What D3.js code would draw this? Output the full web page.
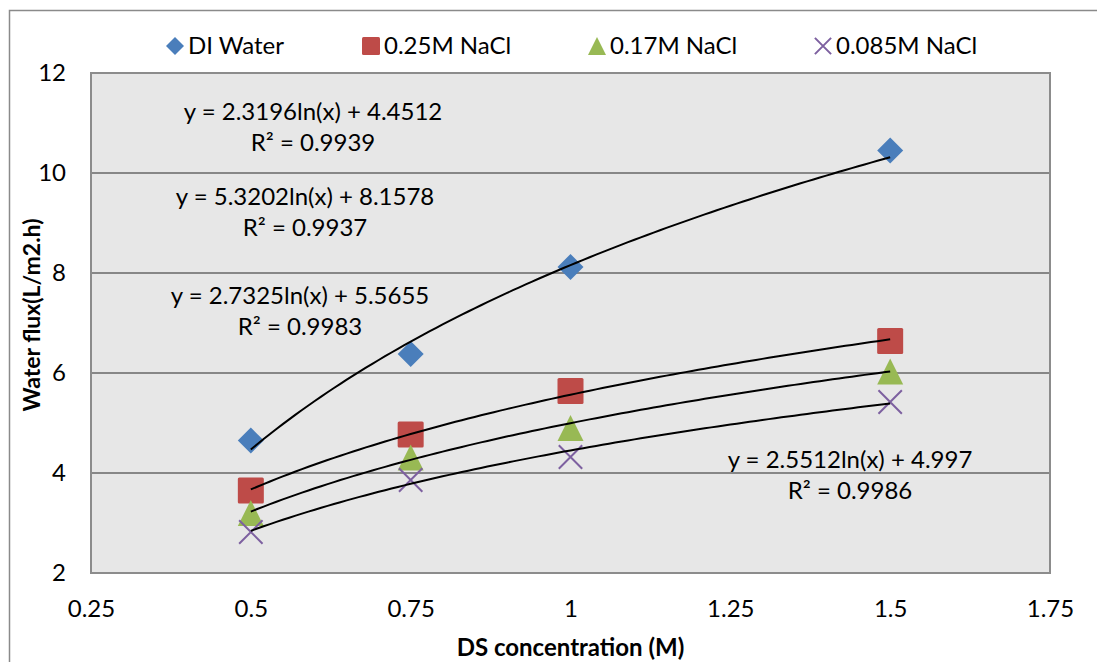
<!DOCTYPE html>
<html>
<head>
<meta charset="utf-8">
<script src="https://cdn.jsdelivr.net/npm/d3@7"></script>
<style>
  body { margin: 0; background: #fff; }
  svg { font-family: Lato, "Open Sans", sans-serif; }
</style>
</head>
<body>
<svg id="chart"></svg>
<script>
const concentrations = [0.5, 0.75, 1, 1.5];
const seriesNames = ["DI Water", "0.25M NaCl", "0.17M NaCl", "0.085M NaCl"];
const diWater = [4.65, 6.38, 8.12, 10.45];
const nacl025 = [3.65, 4.77, 5.64, 6.64];
const nacl017 = [3.2, 4.31, 4.9, 6.03];
const nacl0085 = [2.82, 3.86, 4.32, 5.42];
// log trendline coefficients (a*ln(x) + b) per series
const trendA = [5.3202, 2.7325, 2.5512, 2.3196];
const trendB = [8.1578, 5.5655, 4.997, 4.4512];
const xTicks = [0.25, 0.5, 0.75, 1, 1.25, 1.5, 1.75];
const yTicks = [2, 4, 6, 8, 10, 12];
const trendLabels = [
  ["y = 2.3196ln(x) + 4.4512", "R² = 0.9939"],
  ["y = 5.3202ln(x) + 8.1578", "R² = 0.9937"],
  ["y = 2.7325ln(x) + 5.5655", "R² = 0.9983"],
  ["y = 2.5512ln(x) + 4.997", "R² = 0.9986"]
];

const W = 1097, H = 662;
const margin = { top: 73, right: 47, bottom: 89, left: 91 };
const width = W - margin.left - margin.right;
const height = H - margin.top - margin.bottom;
const fs = 24;

const svg = d3.select("#chart").attr("width", W).attr("height", H);

svg.append("rect")
  .attr("x", 9.5).attr("y", 10.5)
  .attr("width", W + 20).attr("height", H + 20)
  .attr("fill", "#fff").attr("stroke", "#8a8a8a").attr("stroke-width", 1.5);

const g = svg.append("g").attr("transform", `translate(${margin.left},${margin.top})`);

const x = d3.scaleLinear().domain([0.25, 1.75]).range([0, width]);
const y = d3.scaleLinear().domain([2, 12]).range([height, 0]);

g.append("rect")
  .attr("width", width).attr("height", height)
  .attr("fill", "#e7e7e7");

g.selectAll(".grid")
  .data(yTicks.slice(1, -1))
  .enter().append("line")
  .attr("x1", 0).attr("x2", width)
  .attr("y1", d => y(d)).attr("y2", d => y(d))
  .attr("stroke", "#878787").attr("stroke-width", 2);

g.append("rect")
  .attr("width", width).attr("height", height)
  .attr("fill", "none").attr("stroke", "#8c8c8c").attr("stroke-width", 2);

// axes (labels only, Excel style)
const xAxis = d3.axisBottom(x).tickValues(xTicks).tickSize(0).tickPadding(27).tickFormat(d => String(d));
const yAxis = d3.axisLeft(y).tickValues(yTicks).tickSize(0).tickPadding(25).tickFormat(d3.format("d"));

g.append("g").attr("transform", `translate(0,${height})`).call(xAxis)
  .call(a => a.select(".domain").remove())
  .selectAll("text").attr("font-size", fs).attr("fill", "#000").attr("font-family", "Lato");
g.append("g").call(yAxis)
  .call(a => a.select(".domain").remove())
  .selectAll("text").attr("font-size", fs).attr("fill", "#000").attr("font-family", "Lato");

const colors = ["#4a7ebb", "#be4b48", "#98b954", "#7d60a0"];
const allSeries = [diWater, nacl025, nacl017, nacl0085];

function marker(sel, k, size) {
  const s = size * 0.5;
  if (k === 0) {
    sel.append("path").attr("d", `M0,${-s}L${s},0L0,${s}L${-s},0Z`).attr("fill", colors[0]);
  } else if (k === 1) {
    sel.append("rect").attr("x", -s).attr("y", -s).attr("width", 2 * s).attr("height", 2 * s)
      .attr("rx", 1.5).attr("fill", colors[1]);
  } else if (k === 2) {
    sel.append("path").attr("d", `M0,${-s}L${s},${s}L${-s},${s}Z`).attr("fill", colors[2]);
  } else {
    const c = s * 0.9;
    sel.append("path").attr("d", `M${-c},${-c}L${c},${c}M${c},${-c}L${-c},${c}`)
      .attr("stroke", colors[3]).attr("stroke-width", 2).attr("fill", "none");
  }
}

allSeries.forEach((vals, k) => {
  g.selectAll(".pt" + k)
    .data(vals)
    .enter().append("g")
    .attr("transform", (d, i) => `translate(${x(concentrations[i])},${y(d)})`)
    .each(function () { marker(d3.select(this), k, 26); });
});

// logarithmic trendlines drawn over the markers
const trendX = d3.range(0, 101).map(i => 0.5 + i * 0.01);
const line = d3.line().x(d => x(d[0])).y(d => y(d[1]));
trendA.forEach((a, i) => {
  g.append("path")
    .datum(trendX.map(v => [v, a * Math.log(v) + trendB[i]]))
    .attr("d", line)
    .attr("fill", "none").attr("stroke", "#000").attr("stroke-width", 2);
});

// trendline labels
const labelPos = [[313, 112], [305, 197], [300, 296], [850, 460]];
trendLabels.forEach((lab, i) => {
  const t = svg.append("text")
    .attr("x", labelPos[i][0]).attr("y", labelPos[i][1])
    .attr("text-anchor", "middle").attr("font-size", fs).attr("fill", "#000");
  t.append("tspan").attr("x", labelPos[i][0]).attr("dy", "0.35em").text(lab[0]);
  t.append("tspan").attr("x", labelPos[i][0]).attr("dy", 31).text(lab[1]);
});

// legend
const legendX = [175, 371, 597, 823];
seriesNames.forEach((name, k) => {
  const lg = svg.append("g").attr("transform", `translate(${legendX[k]},46)`);
  marker(lg, k, 18);
  lg.append("text").attr("x", 13).attr("dy", "0.35em")
    .attr("font-size", fs).attr("fill", "#000").text(name);
});

// axis titles
svg.append("text")
  .attr("x", margin.left + width / 2).attr("y", 648)
  .attr("text-anchor", "middle").attr("dy", "0.35em")
  .attr("font-size", fs).attr("font-weight", "bold").text("DS concentration (M)");

svg.append("text")
  .attr("transform", "translate(32,315) rotate(-90)")
  .attr("text-anchor", "middle").attr("dy", "0.35em")
  .attr("font-size", fs - 1).attr("font-weight", "bold").text("Water flux(L/m2.h)");
</script>
</body>
</html>
